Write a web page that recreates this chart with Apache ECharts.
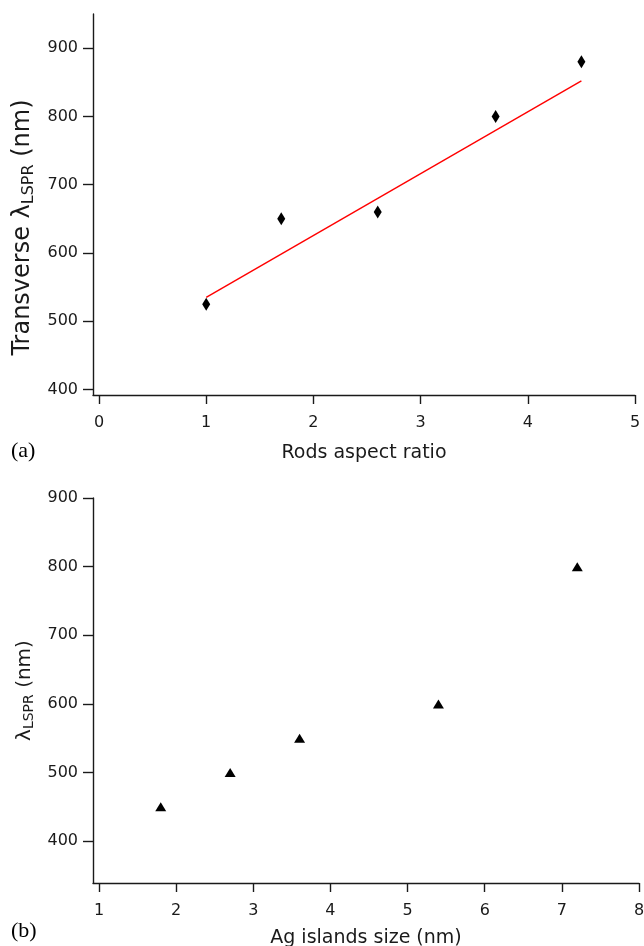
<!DOCTYPE html>
<html>
<head>
<meta charset="utf-8">
<script src="https://cdn.jsdelivr.net/npm/echarts@6/dist/echarts.min.js"></script>
<style>
  html, body { margin: 0; padding: 0; background: #fff; }
  #chart { width: 644px; height: 946px; }
</style>
</head>
<body>
<div id="chart"></div>
<script>
  // (a) rods
  var rodsRatio = [1.0, 1.7, 2.6, 3.7, 4.5]
  var rodsLspr = [525, 650, 660, 800, 880]
  var fitRatio = [1.0, 4.5]
  var fitLspr = [535, 852]
  // (b) Ag islands
  var islandSize = [1.8, 2.7, 3.6, 5.4, 7.2]
  var islandLspr = [450, 500, 550, 600, 800]
  // tick labels
  var ratioTicks = [0, 1, 2, 3, 4, 5]
  var sizeTicks = [1, 2, 3, 4, 5, 6, 7, 8]
  var lsprTicks = [400, 500, 600, 700, 800, 900]

  var font = 'DejaVu Sans'
  var ink = '#1a1a1a'

  function xAxisOf(gridIndex, min, max, ticks, name, gap) {
    return {
      type: 'value',
      gridIndex: gridIndex,
      min: min,
      max: max,
      name: name,
      nameLocation: 'middle',
      nameGap: gap,
      nameMoveOverlap: false,
      nameTextStyle: { color: ink, fontFamily: font, fontSize: 19 },
      axisLine: { show: true, onZero: false, lineStyle: { color: ink, width: 1.4 } },
      axisTick: { show: true, inside: false, length: 9, customValues: ticks, lineStyle: { color: ink, width: 1.4 } },
      axisLabel: { customValues: ticks, margin: 20, color: ink, fontFamily: font, fontSize: 16 },
      splitLine: { show: false }
    }
  }

  function yAxisOf(gridIndex, min, max, name, nameSize, shift, gap) {
    return {
      type: 'value',
      gridIndex: gridIndex,
      min: min,
      max: max,
      name: name,
      nameLocation: 'middle',
      nameGap: gap,
      nameMoveOverlap: false,
      nameTextStyle: {
        color: ink,
        fontFamily: font,
        padding: [0, shift, 0, 0],
        rich: {
          n: { color: ink, fontFamily: font, fontSize: nameSize, lineHeight: nameSize + 4 },
          s: { color: ink, fontFamily: font, fontSize: Math.round(nameSize * 0.68), padding: [Math.round(nameSize * 0.45), 0, 0, 0] }
        }
      },
      axisLine: { show: true, onZero: false, lineStyle: { color: ink, width: 1.4 } },
      axisTick: { show: true, inside: false, length: 10, customValues: lsprTicks, lineStyle: { color: ink, width: 1.4 } },
      axisLabel: { customValues: lsprTicks, margin: 15, color: ink, fontFamily: font, fontSize: 16 },
      splitLine: { show: false }
    }
  }

  var chart = echarts.init(document.getElementById('chart'), null, { renderer: 'canvas' })
  chart.setOption({
    backgroundColor: '#fff',
    animation: false,
    title: [
      { text: '(a)', left: 11, top: 440, padding: 0, textStyle: { color: '#000', fontFamily: 'Liberation Serif', fontSize: 22, fontWeight: 'normal' } },
      { text: '(b)', left: 11, top: 920, padding: 0, textStyle: { color: '#000', fontFamily: 'Liberation Serif', fontSize: 22, fontWeight: 'normal' } }
    ],
    grid: [
      { left: 93, top: 14, width: 542, height: 381, outerBoundsMode: 'none', containLabel: false },
      { left: 93, top: 498, width: 546, height: 385, outerBoundsMode: 'none', containLabel: false }
    ],
    xAxis: [
      xAxisOf(0, -0.056, 5, ratioTicks, 'Rods aspect ratio', 49),
      xAxisOf(1, 0.922, 8, sizeTicks, 'Ag islands size (nm)', 46)
    ],
    yAxis: [
      yAxisOf(0, 392, 950, '{n|Transverse λ}{s|LSPR}{n| (nm)}', 24, 46, 56),
      yAxisOf(1, 339, 900, '{n|λ}{s|LSPR}{n| (nm)}', 20, 0, 56)
    ],
    series: [
      {
        name: 'fit',
        type: 'line',
        xAxisIndex: 0,
        yAxisIndex: 0,
        data: fitRatio.map(function(x, i) { return [x, fitLspr[i]] }),
        showSymbol: false,
        lineStyle: { color: '#ff0000', width: 1.4 }
      },
      {
        name: 'rods',
        type: 'scatter',
        xAxisIndex: 0,
        yAxisIndex: 0,
        data: rodsRatio.map(function(x, i) { return [x, rodsLspr[i]] }),
        symbol: 'diamond',
        symbolSize: [8, 13],
        itemStyle: { color: '#000', opacity: 1 }
      },
      {
        name: 'islands',
        type: 'scatter',
        xAxisIndex: 1,
        yAxisIndex: 1,
        data: islandSize.map(function(x, i) { return [x, islandLspr[i]] }),
        symbol: 'triangle',
        symbolSize: [11, 9],
        itemStyle: { color: '#000', opacity: 1 }
      }
    ]
  })
</script>
</body>
</html>
